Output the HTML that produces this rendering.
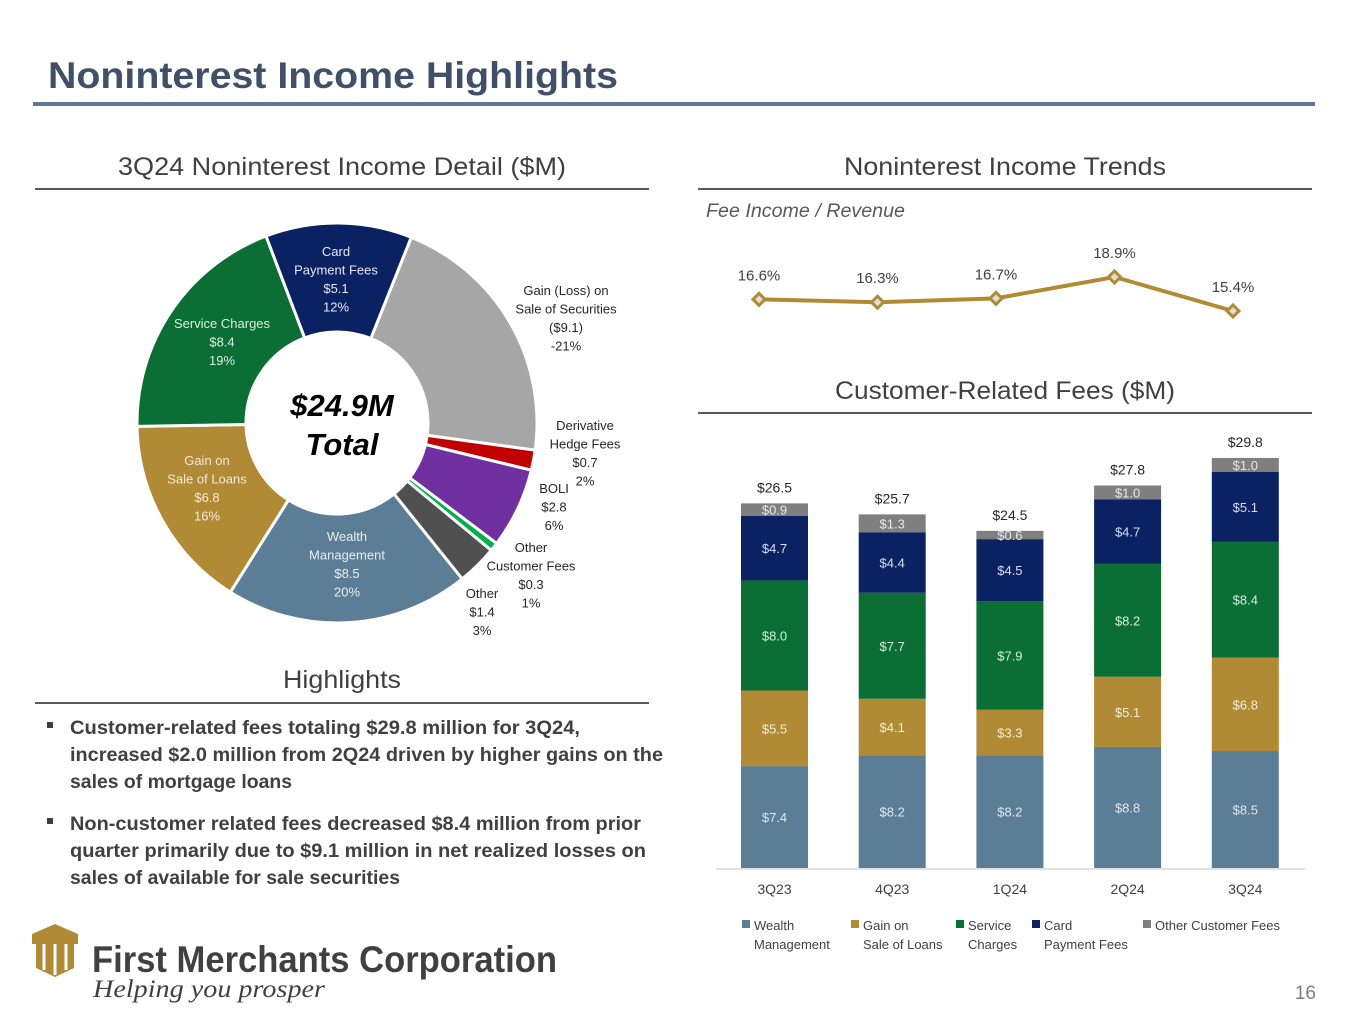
<!DOCTYPE html>
<html><head><meta charset="utf-8"><style>
body{margin:0;background:#fff;}
svg{display:block;font-family:"Liberation Sans",sans-serif;}
</style></head><body>
<svg id="s" width="1365" height="1024" viewBox="0 0 1365 1024" xmlns="http://www.w3.org/2000/svg">
<text x="48" y="88" font-size="37" font-weight="bold" fill="#3f5068" textLength="570" lengthAdjust="spacingAndGlyphs">Noninterest Income Highlights</text>
<rect x="33" y="102" width="1282" height="4" fill="#5f7591"/>

<text x="342" y="175" font-size="25" fill="#404040" text-anchor="middle" textLength="448" lengthAdjust="spacingAndGlyphs">3Q24 Noninterest Income Detail ($M)</text>
<rect x="35" y="188" width="614" height="2" fill="#595959"/>
<text x="1005" y="175" font-size="25" fill="#404040" text-anchor="middle" textLength="322" lengthAdjust="spacingAndGlyphs">Noninterest Income Trends</text>
<rect x="698" y="188" width="614" height="2" fill="#595959"/>
<text x="706" y="217" font-size="19" font-style="italic" fill="#595959" textLength="199" lengthAdjust="spacingAndGlyphs">Fee Income / Revenue</text>
<text x="1005" y="399" font-size="25" fill="#404040" text-anchor="middle" textLength="340" lengthAdjust="spacingAndGlyphs">Customer-Related Fees ($M)</text>
<rect x="698" y="412" width="614" height="2" fill="#595959"/>
<text x="342" y="688" font-size="25" fill="#404040" text-anchor="middle" textLength="118" lengthAdjust="spacingAndGlyphs">Highlights</text>
<rect x="35" y="702" width="614" height="2" fill="#595959"/>

<g font-size="19" font-weight="bold" fill="#404040">
<rect x="47" y="722" width="6" height="6" fill="#404040"/>
<text x="70" y="734" textLength="510" lengthAdjust="spacingAndGlyphs">Customer-related fees totaling $29.8 million for 3Q24,</text>
<text x="70" y="761" textLength="593" lengthAdjust="spacingAndGlyphs">increased $2.0 million from 2Q24 driven by higher gains on the</text>
<text x="70" y="788" textLength="222" lengthAdjust="spacingAndGlyphs">sales of mortgage loans</text>
<rect x="47" y="818" width="6" height="6" fill="#404040"/>
<text x="70" y="830" textLength="571" lengthAdjust="spacingAndGlyphs">Non-customer related fees decreased $8.4 million from prior</text>
<text x="70" y="857" textLength="576" lengthAdjust="spacingAndGlyphs">quarter primarily due to $9.1 million in net realized losses on</text>
<text x="70" y="884" textLength="330" lengthAdjust="spacingAndGlyphs">sales of available for sale securities</text>
</g>

<g>
<path d="M32 934 L55 924 L78 934 L78 944 L74 944 L74 968 L55 977 L36 968 L36 944 L32 944 Z" fill="#b08a35"/>
<path d="M44 944 V970 M55 944 V975 M66 944 V970" stroke="#fff" stroke-width="3"/>
<text x="92" y="972" font-size="37" font-weight="bold" fill="#404040" textLength="465" lengthAdjust="spacingAndGlyphs">First Merchants Corporation</text>
<text x="93" y="997" font-size="25" font-style="italic" fill="#404040" font-family="Liberation Serif, serif" textLength="232" lengthAdjust="spacingAndGlyphs">Helping you prosper</text>
</g>
<text x="1316" y="999" font-size="19" fill="#7f7f7f" text-anchor="end">16</text>

<g id="donut"></g>
<g id="line"></g>
<g id="bars"></g>
</svg>
<script>
const NS="http://www.w3.org/2000/svg";
// donut data
const pieLabels=["Gain (Loss) on Sale of Securities","Derivative Hedge Fees","BOLI","Other Customer Fees","Other","Wealth Management","Gain on Sale of Loans","Service Charges","Card Payment Fees"];
const pieValues=[-9.1,0.7,2.8,0.3,1.4,8.5,6.8,8.4,5.1];
const piePct=["-21%","2%","6%","1%","3%","20%","16%","19%","12%"];
// line data
const lineCats=["3Q23","4Q23","1Q24","2Q24","3Q24"];
const lineValues=[16.6,16.3,16.7,18.9,15.4];
// bar data
const barCats=["3Q23","4Q23","1Q24","2Q24","3Q24"];
const wealth=[7.4,8.2,8.2,8.8,8.5];
const gainLoans=[5.5,4.1,3.3,5.1,6.8];
const service=[8.0,7.7,7.9,8.2,8.4];
const card=[4.7,4.4,4.5,4.7,5.1];
const otherCust=[0.9,1.3,0.6,1.0,1.0];
const barTotals=[26.5,25.7,24.5,27.8,29.8];

function mk(tag,attrs,parent,text){const e=document.createElementNS(NS,tag);for(const k in attrs)e.setAttribute(k,attrs[k]);if(text!==undefined)e.textContent=text;parent.appendChild(e);return e;}
function fmt(v){return v<0?"($"+Math.abs(v).toFixed(1)+")":"$"+v.toFixed(1);}

// ---- donut ----
(function(){
const g=document.getElementById('donut');
const cx=337,cy=423,R=200,r=91,start=21.8;
const cols=["#a6a6a6","#c00000","#7030a0","#00b050","#505050","#5b7d96","#b08a35","#0b6e34","#0a2262"];
const tot=pieValues.reduce((a,b)=>a+Math.abs(b),0);
let a=start;
const pt=(ang,rad)=>[cx+rad*Math.sin(ang*Math.PI/180),cy-rad*Math.cos(ang*Math.PI/180)];
pieValues.forEach((v,i)=>{
 const sw=Math.abs(v)/tot*360;const a2=a+sw;
 const [x1,y1]=pt(a,R),[x2,y2]=pt(a2,R),[x3,y3]=pt(a2,r),[x4,y4]=pt(a,r);
 const lg=sw>180?1:0;
 const p=mk('path',{d:`M${x1} ${y1} A${R} ${R} 0 ${lg} 1 ${x2} ${y2} L${x3} ${y3} A${r} ${r} 0 ${lg} 0 ${x4} ${y4} Z`,fill:cols[i],stroke:"#fff","stroke-width":3},g);
 
 
 a=a2;
});
const lab=[
 {x:566,y:295,c:"#262626",l:["Gain (Loss) on","Sale of Securities"]},
 {x:585,y:430,c:"#262626",l:["Derivative","Hedge Fees"]},
 {x:554,y:493,c:"#262626",l:["BOLI"]},
 {x:531,y:552,c:"#262626",l:["Other","Customer Fees"]},
 {x:482,y:598,c:"#262626",l:["Other"]},
 {x:347,y:541,c:"#e8eef3",l:["Wealth","Management"]},
 {x:207,y:465,c:"#f3ead5",l:["Gain on","Sale of Loans"]},
 {x:222,y:328,c:"#d9efe0",l:["Service Charges"]},
 {x:336,y:256,c:"#e6e9f3",l:["Card","Payment Fees"]}
];
lab.forEach((L,i)=>{
 const t=mk('text',{x:L.x,y:L.y,"font-size":13,fill:L.c,"text-anchor":"middle"},g);
 
 
 const lines=L.l.concat([fmt(pieValues[i]),piePct[i]]);
 lines.forEach((s,j)=>{mk('tspan',{x:L.x,dy:j?18.5:0},t,s);});
});
const c1=mk('text',{x:342,y:416,"font-size":31,"font-weight":"bold","font-style":"italic","text-anchor":"middle",fill:"#000"},g,"$24.9M");


const c2=mk('text',{x:342,y:455,"font-size":31,"font-weight":"bold","font-style":"italic","text-anchor":"middle",fill:"#000"},g,"Total");


})();

// ---- line ----
(function(){
const g=document.getElementById('line');
const xs=i=>759+i*118.5;
const ys=v=>277+(18.9-v)*9.71;
const pts=lineValues.map((v,i)=>xs(i)+","+ys(v)).join(" ");
const pl=mk('polyline',{points:pts,fill:"none",stroke:"#b08a35","stroke-width":4},g);


lineValues.forEach((v,i)=>{
 const x=xs(i),y=ys(v);
 const d=mk('path',{d:`M${x} ${y-6} L${x+6} ${y} L${x} ${y+6} L${x-6} ${y} Z`,fill:"#ddd",stroke:"#b08a35","stroke-width":3},g);
 
 
 const t=mk('text',{x:x,y:y-19,"font-size":15,fill:"#404040","text-anchor":"middle"},g,v.toFixed(1)+"%");
 
 
});
})();

// ---- bars ----
(function(){
const g=document.getElementById('bars');
const base=868,k=13.76,bw=67;
const xc=i=>774.5+i*117.7;
const ys=v=>base-v*k;
const series=[[wealth,"#5b7d96","#dfe7ee","wealth"],[gainLoans,"#b08a35","#f5ecd6","gain-on-loans"],[service,"#0b6e34","#d4efdc","service-charges"],[card,"#0a2262","#d9def0","card-payment"],[otherCust,"#7f7f7f","#e8e8e8","other-customer"]];
const ax=mk('line',{x1:716,x2:1305,y1:base+1,y2:base+1,stroke:"#d9d9d9","stroke-width":1.5},g);


barCats.forEach((c,i)=>{
 let cum=0;
 series.forEach(([arr,col,tc,nm])=>{
  const v=arr[i];const y0=ys(cum),y1=ys(cum+v);
  const r=mk('rect',{x:xc(i)-bw/2,y:y1,width:bw,height:y0-y1,fill:col},g);
  
  
  const t=mk('text',{x:xc(i),y:(y0+y1)/2+5,"font-size":13,fill:tc,"text-anchor":"middle"},g,fmt(v));
  
  
  cum+=v;
 });
 const tt=mk('text',{x:xc(i),y:ys(barTotals[i])-11,"font-size":14,fill:"#262626","text-anchor":"middle"},g,fmt(barTotals[i]));
 
 
 const xl=mk('text',{x:xc(i),y:894,"font-size":14,fill:"#404040","text-anchor":"middle"},g,c);
 
 
});
const leg=[[742,"#5b7d96",["Wealth","Management"]],[851,"#b08a35",["Gain on","Sale of Loans"]],[956,"#0b6e34",["Service","Charges"]],[1032,"#0a2262",["Card","Payment Fees"]],[1143,"#7f7f7f",["Other Customer Fees"]]];
leg.forEach(([x,col,l],i)=>{
 const sq=mk('rect',{x:x,y:920,width:8,height:8,fill:col},g);
 
 
 const t=mk('text',{x:x+12,y:930,"font-size":13,fill:"#404040"},g);
 
 
 l.forEach((s,j)=>mk('tspan',{x:x+12,dy:j?19:0},t,s));
});
})();
</script>
</body></html>
